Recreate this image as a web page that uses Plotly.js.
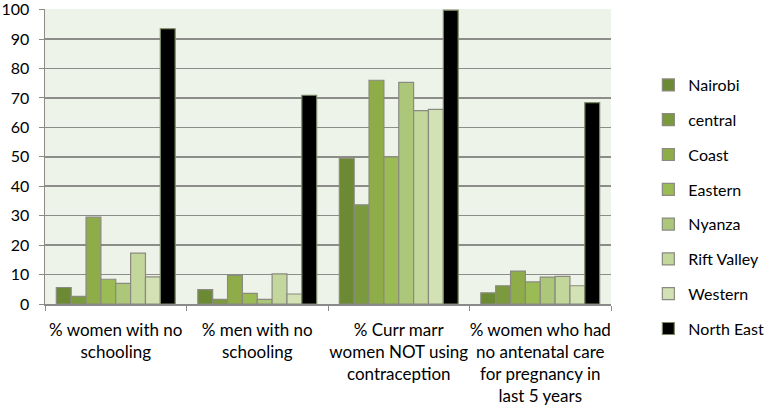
<!DOCTYPE html>
<html>
<head>
<meta charset="utf-8">
<script src="https://cdn.plot.ly/plotly-3.0.1.min.js"></script>
<style>
  html, body { margin: 0; padding: 0; background: #fff; }
  #chart { width: 778px; height: 409px; }
</style>
</head>
<body>
<div id="chart"></div>
<script>
// categories (x axis)
var categories = ['women_school', 'men_school', 'contraception', 'antenatal'];
var tickLabels = [
  '% women with no<br>schooling',
  '% men with no<br>schooling',
  '% Curr marr<br>women NOT using<br>contraception',
  '% women who had<br>no antenatal care<br>for pregnancy in<br>last 5 years'
];

// series values
var nairobi    = [5.6, 4.9, 49.5, 3.8];
var central    = [2.6, 1.6, 33.7, 6.2];
var coast      = [29.5, 9.7, 76.0, 11.2];
var eastern    = [8.4, 3.6, 50.0, 7.5];
var nyanza     = [7.0, 1.6, 75.3, 9.1];
var riftValley = [17.3, 10.2, 65.7, 9.4];
var western    = [9.2, 3.4, 66.1, 6.2];
var northEast  = [93.5, 70.9, 99.8, 68.4];

var seriesNames = ['Nairobi', 'central', 'Coast', 'Eastern', 'Nyanza', 'Rift Valley', 'Western', 'North East'];
var seriesValues = [nairobi, central, coast, eastern, nyanza, riftValley, western, northEast];
var colors = ['#6b8a33', '#7b993d', '#8eac47', '#9bbb55', '#acc77a', '#c3d69b', '#d3e2b4', '#000000'];

var data = seriesNames.map(function (name, i) {
  return {
    type: 'bar',
    name: name,
    x: categories,
    y: seriesValues[i],
    legendgroup: 'g' + i,
    marker: {
      color: colors[i],
      line: {color: i === 7 ? '#7d8a66' : '#8a8a80', width: 1.2}
    },
    hoverinfo: 'name+y'
  };
});

var font = {family: 'Lato, "Open Sans", sans-serif', size: 16, color: '#000'};

var layout = {
  width: 778,
  height: 409,
  margin: {l: 45, r: 127, t: 9, b: 105},
  paper_bgcolor: '#ffffff',
  plot_bgcolor: '#eef3ea',
  font: font,
  barmode: 'group',
  bargap: 0.16,
  bargroupgap: 0,
  showlegend: true,
  legend: {
    x: 1.066,
    xanchor: 'left',
    y: 0.80,
    yanchor: 'top',
    traceorder: 'grouped',
    tracegroupgap: 11,
    font: {family: font.family, size: 16, color: '#000'},
    itemwidth: 30
  },
  xaxis: {
    tickmode: 'array',
    tickvals: categories,
    ticktext: tickLabels,
    tickangle: 0,
    tickson: 'boundaries',
    ticks: 'outside',
    ticklen: 5,
    tickcolor: '#8a8a8a',
    ticklabelstandoff: 10,
    showline: true,
    linecolor: '#8a8a8a',
    linewidth: 1.5,
    showgrid: false,
    zeroline: false,
    tickfont: {family: font.family, size: 17, color: '#000'}
  },
  yaxis: {
    range: [0, 100.2],
    tickvals: [0, 10, 20, 30, 40, 50, 60, 70, 80, 90, 100],
    ticklabeloverflow: 'allow',
    ticks: 'outside',
    ticklen: 5,
    tickcolor: '#8a8a8a',
    ticklabelstandoff: 6,
    showline: true,
    linecolor: '#8a8a8a',
    linewidth: 1.5,
    gridcolor: '#8c8c88',
    gridwidth: 1.5,
    zeroline: false,
    tickfont: {family: font.family, size: 16, color: '#000'}
  }
};

Plotly.newPlot('chart', data, layout, {displayModeBar: false, staticPlot: true});
</script>
</body>
</html>
